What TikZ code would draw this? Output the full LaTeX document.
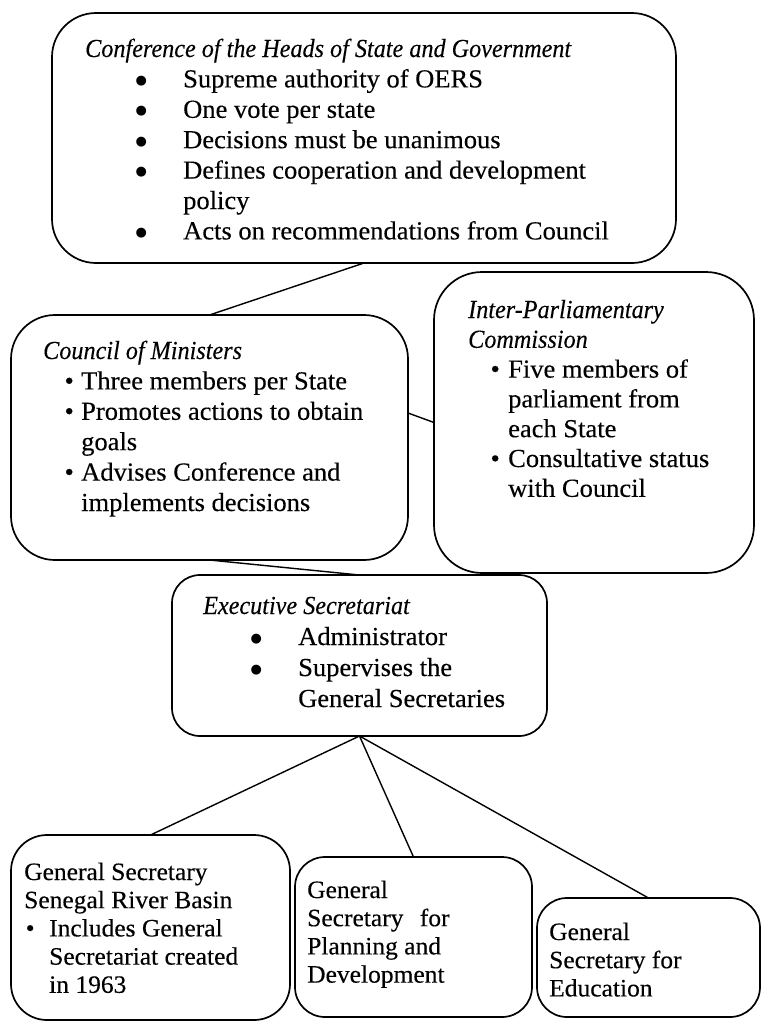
\documentclass[tikz,border=0pt]{standalone}
\usepackage{fontspec}
\setmainfont{Liberation Serif}[FakeStretch=1.02, FakeBold=0.25]
\newfontfamily\titfont{Liberation Serif}[FakeStretch=0.93, FakeBold=0.2]
\newfontfamily\dejavufont{DejaVu Sans}
\usepackage{array}
\usetikzlibrary{calc}
\newcommand{\mybul}[2]{\makebox[#1][l]{\hspace*{#2}\makebox[0pt]{\textbullet}}}
\newcommand{\mybigbul}[2]{\makebox[#1][l]{\hspace*{#2}\makebox[0pt]{\raisebox{3pt}{\dejavufont\fontsize{13}{13}\selectfont ●}}}}
\newcommand{\myskip}[1]{\makebox[#1]{}}
\begin{document}
\begin{tikzpicture}[x=1pt,y=-1pt,
  box/.style={draw, line width=1.7pt, rounded corners=#1, inner sep=0pt, outer sep=0pt},
  conn/.style={line width=1.4pt},
  txt/.style={inner sep=0pt, anchor=base west, font=\fontsize{26}{30.4}\selectfont},
  txtsmall/.style={inner sep=0pt, anchor=base west, font=\fontsize{25}{28.2}\selectfont}]
\path[use as bounding box, fill=white] (0,0) rectangle (763,1023);
% boxes
\node[box=44pt, minimum width=624pt, minimum height=250pt] (conf) at (364,138) {};
\node[box=44pt, minimum width=397pt, minimum height=245pt] (council) at (209.5,437.5) {};
\node[box=48pt, minimum width=320pt, minimum height=301pt] (ip) at (594,422.5) {};
\node[box=28pt, minimum width=375pt, minimum height=161pt] (exec) at (359.5,655.5) {};
\node[box=36pt, minimum width=279pt, minimum height=185pt] (gsa) at (150.5,927.5) {};
\node[box=30pt, minimum width=237pt, minimum height=160pt] (gsb) at (413.5,937) {};
\node[box=30pt, minimum width=223pt, minimum height=119pt] (gsc) at (648.5,957.5) {};
% connectors
\draw[conn] (conf.south) -- (council.north);
\coordinate (ce) at ($(council.north east)!0.4!(council.south east)$);
\draw[conn] (ce) -- (ip.west);
\draw[conn] (council.south) -- (exec.north);
\draw[conn] (exec.south) -- (gsa.north);
\draw[conn] (exec.south) -- (gsb.north);
\draw[conn] (exec.south) -- (gsc.north);
% texts
\node[txt] (conftxt) at (85,57) {\begin{tabular}[t]{@{}l@{}l@{}}
\multicolumn{2}{@{}l@{}}{\titfont\itshape Conference of the Heads of State and Government}\\
\mybigbul{98pt}{56pt} & Supreme authority of OERS\\
\mybigbul{98pt}{56pt} & One vote per state\\
\mybigbul{98pt}{56pt} & Decisions must be unanimous\\
\mybigbul{98pt}{56pt} & Defines cooperation and development\\
\myskip{98pt} & policy\\
\mybigbul{98pt}{56pt} & Acts on recommendations from Council
\end{tabular}};
\node[txt] (counciltxt) at (43,359) {\begin{tabular}[t]{@{}l@{}l@{}}
\multicolumn{2}{@{}l@{}}{\titfont\itshape Council of Ministers}\\
\mybul{38pt}{26pt} & Three members per State\\
\mybul{38pt}{26pt} & Promotes actions to obtain\\
\myskip{38pt} & goals\\
\mybul{38pt}{26pt} & Advises Conference and\\
\myskip{38pt} & implements decisions
\end{tabular}};
\node[txt, font=\fontsize{26}{29.8}\selectfont] (iptxt) at (468,318) {\begin{tabular}[t]{@{}l@{}l@{}}
\multicolumn{2}{@{}l@{}}{\titfont\itshape Inter-Parliamentary}\\
\multicolumn{2}{@{}l@{}}{\titfont\itshape Commission}\\
\mybul{40pt}{27pt} & Five members of\\
\myskip{40pt} & parliament from\\
\myskip{40pt} & each State\\
\mybul{40pt}{27pt} & Consultative status\\
\myskip{40pt} & with Council
\end{tabular}};
\node[txt, font=\fontsize{26}{31}\selectfont] (exectxt) at (203,614) {\begin{tabular}[t]{@{}l@{}l@{}}
\multicolumn{2}{@{}l@{}}{\titfont\itshape Executive Secretariat}\\
\mybigbul{95pt}{53pt} & Administrator\\
\mybigbul{95pt}{53pt} & Supervises the\\
\myskip{95pt} & General Secretaries
\end{tabular}};
\node[txtsmall] (gsatxt) at (24,880) {\begin{tabular}[t]{@{}l@{}l@{}}
\multicolumn{2}{@{}l@{}}{General Secretary}\\
\multicolumn{2}{@{}l@{}}{Senegal River Basin}\\
\mybul{25pt}{6pt} & Includes General\\
\myskip{25pt} & Secretariat created\\
\myskip{25pt} & in 1963
\end{tabular}};
\node[txtsmall] (gsbtxt) at (307,898) {\begin{tabular}[t]{@{}l@{}}
General\\
Secretary\hspace{0.4em} for\\
Planning and\\
Development
\end{tabular}};
\node[txtsmall] (gsctxt) at (549,940) {\begin{tabular}[t]{@{}l@{}}
General\\
Secretary for\\
Education
\end{tabular}};
\end{tikzpicture}
\end{document}
